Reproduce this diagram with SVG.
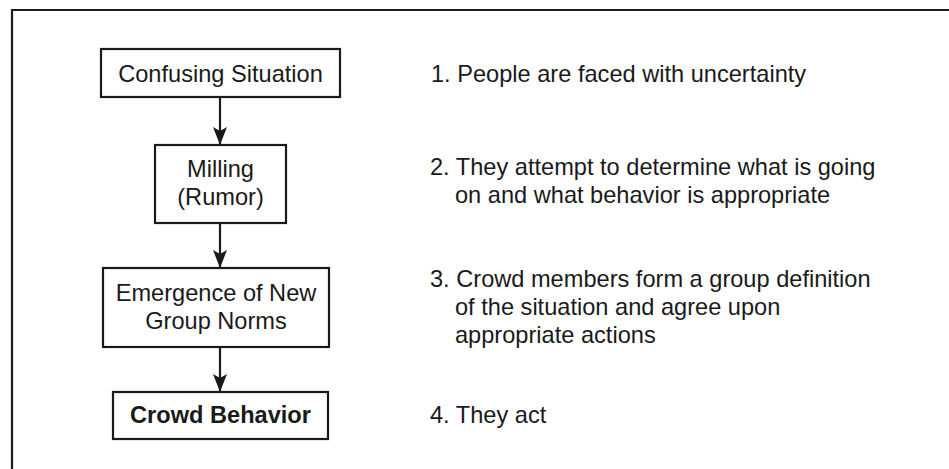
<svg xmlns="http://www.w3.org/2000/svg" width="949" height="469" viewBox="0 0 949 469">
  <style>
    .box { fill: #fff; stroke: #1a1a1a; stroke-width: 2.2; }
    .lbl { font-family: "Liberation Sans", Arial, sans-serif; font-size: 23.6px; fill: #1a1a1a; text-anchor: middle; }
    .step { font-family: "Liberation Sans", Arial, sans-serif; font-size: 23.6px; fill: #1a1a1a; }
    .edge { stroke: #1a1a1a; stroke-width: 2.2; fill: none; }
  </style>
  <defs>
    <marker id="head" markerWidth="18" markerHeight="14" refX="17" refY="7" orient="auto" markerUnits="userSpaceOnUse" viewBox="0 0 18 14">
      <path d="M0,0 L4,7 L0,14 L18,7 Z" fill="#1a1a1a"/>
    </marker>
  </defs>
  <rect width="949" height="469" fill="#fff"/>

  <!-- frame -->
  <path d="M12,469 L12,10 L949,10" fill="none" stroke="#1a1a1a" stroke-width="2.2"/>

  <!-- connectors -->
  <g id="connectors">
    <line class="edge" x1="220" y1="97" x2="220" y2="144" marker-end="url(#head)"/>
    <line class="edge" x1="220" y1="223" x2="220" y2="267" marker-end="url(#head)"/>
    <line class="edge" x1="220" y1="347" x2="220" y2="391" marker-end="url(#head)"/>
  </g>

  <g id="node-confusing">
    <rect class="box" x="101" y="49" width="239" height="48"/>
    <text class="lbl" x="220.5" y="82">Confusing Situation</text>
  </g>

  <g id="node-milling">
    <rect class="box" x="155" y="145" width="131" height="78"/>
    <text class="lbl" x="220.5" y="177">Milling</text>
    <text class="lbl" x="220.5" y="205">(Rumor)</text>
  </g>

  <g id="node-emergence">
    <rect class="box" x="103" y="268" width="226" height="79"/>
    <text class="lbl" x="216" y="301">Emergence of New</text>
    <text class="lbl" x="216" y="329">Group Norms</text>
  </g>

  <g id="node-crowd">
    <rect class="box" x="113" y="392" width="215" height="47"/>
    <text class="lbl" x="220.5" y="423" font-weight="bold">Crowd Behavior</text>
  </g>

  <!-- step descriptions -->
  <g id="steps">
    <text class="step" x="431" y="82">1. People are faced with uncertainty</text>
    <text class="step" x="430" y="175">2. They attempt to determine what is going</text>
    <text class="step" x="455" y="203">on and what behavior is appropriate</text>
    <text class="step" x="430" y="287">3. Crowd members form a group definition</text>
    <text class="step" x="455" y="315">of the situation and agree upon</text>
    <text class="step" x="455" y="343">appropriate actions</text>
    <text class="step" x="430" y="423">4. They act</text>
  </g>
</svg>
